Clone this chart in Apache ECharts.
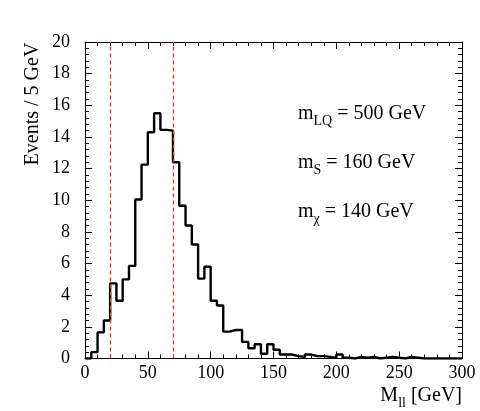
<!DOCTYPE html>
<html>
<head>
<meta charset="utf-8">
<script src="https://cdn.jsdelivr.net/npm/echarts@6/dist/echarts.min.js"></script>
<style>html,body{margin:0;padding:0;background:#fff}#c{width:480px;height:411px}</style>
</head>
<body>
<div id="c"></div>
<script>
// Histogram of M_ll, 5 GeV bins from 0 to 300 GeV
const binWidth = 5;
const xRange = [0, 300];
const yRange = [0, 20];
const counts = [0, 0.4, 1.65, 2.4, 4.75, 3.65, 5.0, 5.85, 10.05, 12.25,
  14.3, 15.5, 14.45, 14.4, 12.4, 9.65, 8.4, 7.2, 5.05, 5.8,
  3.65, 3.35, 1.7, 1.8, 1.8, 1.05, 0.65, 0.9, 0.3, 0.9,
  0.55, 0.25, 0.25, 0.15, 0.1, 0.25, 0.15, 0.15, 0.1, 0.05,
  0.25, 0.05, 0, 0.1, 0.05, 0.1, 0, 0.05, 0.1, 0.05,
  0, 0.1, 0.05, 0, 0, 0, 0, 0, 0, 0];
const cutLines = [20, 70];
const annotations = [
  ['m', 'LQ', ' = 500 GeV'],
  ['m', 'S', ' = 160 GeV'],
  ['m', 'χ', ' = 140 GeV']
];
const yTitle = 'Events / 5 GeV';
const xTitle = ['M', 'll', ' [GeV]'];

const FONT = '"Liberation Serif","DejaVu Serif",serif';
const stepData = counts.map((v, i) => [i * binWidth, v]);
stepData.push([counts.length * binWidth, counts[counts.length - 1]]);

const richStyle = {
  m: { fontFamily: FONT, fontSize: 20, lineHeight: 28, fill: '#000', color: '#000' },
  s: { fontFamily: FONT, fontSize: 14, lineHeight: 10, verticalAlign: 'bottom', fill: '#000', color: '#000' }
};

function axisCommon(showLabel, margin) {
  return {
    axisLine: { show: true, onZero: false, lineStyle: { color: '#000', width: 1 } },
    axisTick: { show: true, inside: true, length: 7, lineStyle: { color: '#000', width: 1 } },
    minorTick: { show: true, splitNumber: 5, length: 4, lineStyle: { color: '#000', width: 1 } },
    splitLine: { show: false },
    minorSplitLine: { show: false },
    axisLabel: { show: showLabel, fontFamily: FONT, fontSize: 18, color: '#000', margin: margin }
  };
}

const chart = echarts.init(document.getElementById('c'), null, { renderer: 'canvas' });
const annoGraphics = annotations.map((a, i) => ({
  type: 'text',
  x: 298,
  y: 114 + i * 49,
  style: {
    text: '{m|' + a[0] + '}{s|' + a[1] + '}{m|' + a[2] + '}',
    rich: richStyle,
    align: 'left',
    verticalAlign: 'middle'
  }
}));

chart.setOption({
  animation: false,
  backgroundColor: '#fff',
  grid: { left: 85, right: 18, top: 42, bottom: 52.5, containLabel: false },
  xAxis: [
    Object.assign({ type: 'value', min: xRange[0], max: xRange[1], interval: 50, position: 'bottom' }, axisCommon(true, 6)),
    Object.assign({ type: 'value', min: xRange[0], max: xRange[1], interval: 50, position: 'top' }, axisCommon(false, 6))
  ],
  yAxis: [
    Object.assign({ type: 'value', min: yRange[0], max: yRange[1], interval: 2, position: 'left' }, axisCommon(true, 15)),
    Object.assign({ type: 'value', min: yRange[0], max: yRange[1], interval: 2, position: 'right' }, axisCommon(false, 15))
  ],
  series: [{
    type: 'line',
    xAxisIndex: 0,
    yAxisIndex: 0,
    step: 'end',
    data: stepData,
    showSymbol: false,
    symbol: 'none',
    lineStyle: { color: '#000', width: 2.4 },
    markLine: {
      silent: true,
      symbol: 'none',
      label: { show: false },
      lineStyle: { color: '#e8302a', type: [4, 3], width: 1.3 },
      data: cutLines.map(v => ({ xAxis: v }))
    },
    z: 3
  }],
  graphic: annoGraphics.concat([
    {
      type: 'text',
      x: 33,
      y: 104,
      rotation: Math.PI / 2,
      style: {
        text: yTitle,
        font: '20px ' + FONT,
        fill: '#000',
        align: 'center',
        verticalAlign: 'middle'
      }
    },
    {
      type: 'text',
      x: 462,
      y: 396,
      style: {
        text: '{m|' + xTitle[0] + '}{s|' + xTitle[1] + '}{m|' + xTitle[2] + '}',
        rich: richStyle,
        align: 'right',
        verticalAlign: 'middle'
      }
    }
  ])
});
</script>
</body>
</html>
